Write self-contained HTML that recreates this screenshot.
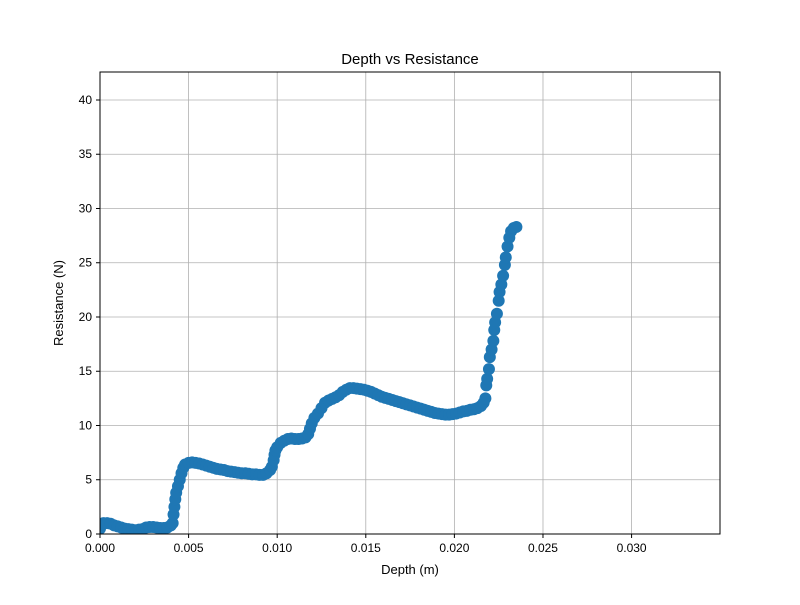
<!DOCTYPE html>
<html><head><meta charset="utf-8"><style>
body{margin:0;background:#fff}
svg{font-family:"Liberation Sans","DejaVu Sans",sans-serif}
</style></head><body>
<svg id="chart" width="800" height="600" viewBox="0 0 800 600" xmlns="http://www.w3.org/2000/svg">
<defs><clipPath id="plotclip"><rect x="100" y="72" width="620" height="462"/></clipPath></defs>
<rect width="800" height="600" fill="#fff"/>
<text x="410" y="64" text-anchor="middle" font-size="15">Depth vs Resistance</text>
<g id="grid"></g>
<g id="marks" clip-path="url(#plotclip)"></g>
<rect x="100" y="72" width="620" height="462" fill="none" stroke="#000" stroke-width="1"/>
<g id="ticks"></g>
<text x="410" y="574" text-anchor="middle" font-size="13">Depth (m)</text>
<text x="63" y="303" text-anchor="middle" font-size="13" transform="rotate(-90 63 303)">Resistance (N)</text>
</svg>
<script>
const depthMm = [0.0,0.1,0.2,0.4,0.6,0.8,1.0,1.2,1.4,1.6,1.8,2.0,2.2,2.4,2.6,2.8,3.0,3.2,3.4,3.6,3.8,4.0,4.1,4.15,4.2,4.25,4.3,4.4,4.5,4.6,4.7,4.8,5.0,5.2,5.4,5.6,5.8,6.0,6.2,6.4,6.6,6.8,7.0,7.2,7.4,7.6,7.8,8.0,8.2,8.4,8.6,8.8,9.0,9.2,9.4,9.6,9.7,9.8,9.85,9.9,10.0,10.2,10.4,10.6,10.8,11.0,11.2,11.4,11.6,11.75,11.85,11.95,12.1,12.3,12.5,12.7,12.9,13.1,13.3,13.5,13.7,13.9,14.1,14.3,14.5,14.7,14.9,15.1,15.3,15.5,15.7,15.9,16.1,16.3,16.5,16.7,16.9,17.1,17.3,17.5,17.7,17.9,18.1,18.3,18.5,18.7,18.9,19.1,19.3,19.5,19.7,19.9,20.1,20.3,20.5,20.7,20.9,21.1,21.3,21.5,21.65,21.75,21.8,21.85,21.95,22.0,22.1,22.2,22.25,22.3,22.4,22.5,22.55,22.65,22.75,22.85,22.9,23.0,23.1,23.2,23.35,23.5];
const resistance = [0.5,0.9,1.0,1.0,0.95,0.8,0.7,0.6,0.5,0.45,0.4,0.35,0.4,0.45,0.6,0.65,0.65,0.6,0.55,0.55,0.6,0.8,1.0,1.8,2.5,3.2,3.8,4.4,5.0,5.6,6.1,6.4,6.55,6.6,6.55,6.5,6.4,6.3,6.2,6.1,6.0,5.95,5.9,5.8,5.75,5.7,5.65,5.6,5.6,5.55,5.5,5.5,5.45,5.45,5.6,5.9,6.2,6.8,7.3,7.7,8.0,8.4,8.6,8.75,8.8,8.75,8.75,8.8,8.9,9.2,9.7,10.2,10.7,11.1,11.6,12.1,12.3,12.45,12.6,12.8,13.1,13.3,13.45,13.45,13.4,13.35,13.3,13.2,13.1,12.95,12.8,12.65,12.55,12.45,12.35,12.25,12.15,12.05,11.95,11.85,11.75,11.65,11.55,11.45,11.35,11.25,11.15,11.1,11.05,11.0,11.0,11.05,11.1,11.2,11.3,11.35,11.45,11.5,11.6,11.8,12.1,12.5,13.7,14.3,15.2,16.3,17.0,17.8,18.8,19.5,20.3,21.5,22.3,23.0,23.8,24.8,25.5,26.5,27.3,27.9,28.2,28.3];
const xTicks = [0,0.005,0.010,0.015,0.020,0.025,0.030];
const xTickLabels = ["0.000","0.005","0.010","0.015","0.020","0.025","0.030"];
const yTicks = [0,5,10,15,20,25,30,35,40];

const X0=100,X1=720,Y0=534,Y1=72,XMAX=0.03499,YMAX=42.58;
const sx=v=>X0+v/XMAX*(X1-X0);
const sy=v=>Y0-v/YMAX*(Y0-Y1);
const NS="http://www.w3.org/2000/svg";
const grid=document.getElementById('grid'),ticks=document.getElementById('ticks'),marks=document.getElementById('marks');
function mk(tag,attrs,parent){const e=document.createElementNS(NS,tag);for(const k in attrs)e.setAttribute(k,attrs[k]);parent.appendChild(e);return e;}
xTicks.forEach((t,i)=>{
  const x=sx(t);
  const g=mk('line',{x1:x,x2:x,y1:Y1,y2:Y0,stroke:'#b0b0b0','stroke-width':0.8},grid);
  
  
  const tk=mk('line',{x1:x,x2:x,y1:Y0,y2:Y0+4,stroke:'#000'},ticks);
  
  
  const tx=mk('text',{x:x,y:Y0+18,'text-anchor':'middle','font-size':12},ticks);
  tx.textContent=xTickLabels[i];
  
  
});
yTicks.forEach(t=>{
  const y=sy(t);
  const g=mk('line',{x1:X0,x2:X1,y1:y,y2:y,stroke:'#b0b0b0','stroke-width':0.8},grid);
  
  
  const tk=mk('line',{x1:X0-4,x2:X0,y1:y,y2:y,stroke:'#000'},ticks);
  
  
  const tx=mk('text',{x:X0-8,y:y+4,'text-anchor':'end','font-size':12},ticks);
  tx.textContent=String(t);
  
  
});
depthMm.forEach((d,i)=>{
  const c=mk('circle',{cx:sx(d/1000),cy:sy(resistance[i]),r:6,fill:'#1f77b4'},marks);
  
  
});
</script>
</body></html>
